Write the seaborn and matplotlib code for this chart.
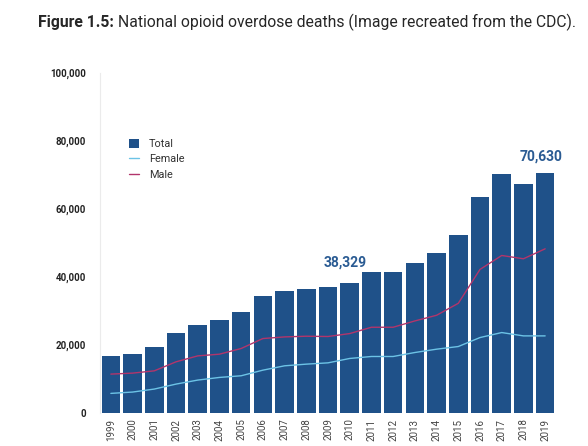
import pandas as pd
import matplotlib.pyplot as plt
import seaborn as sns

years = [str(y) for y in range(1999, 2020)]
total = [16849, 17415, 19394, 23518, 25785, 27424, 29813, 34425, 36010, 36450,
         37004, 38329, 41340, 41502, 43982, 47055, 52404, 63632, 70237, 67367, 70630]
female = [5770, 6160, 7040, 8500, 9680, 10460, 10950, 12600, 13880, 14370,
          14750, 16040, 16620, 16620, 17790, 18770, 19550, 22190, 23660, 22680, 22680]
male = [11440, 11730, 12400, 15050, 16800, 17300, 18970, 21900, 22380, 22580,
        22500, 23360, 25220, 25220, 27080, 28740, 32260, 42230, 46330, 45360, 48290]
yticks = [0, 20000, 40000, 60000, 80000, 100000]
callouts = {"2010": 20, "2019": 16}

BAR = "#1f5189"
FEMALE = "#6cc3e6"
MALE = "#b2356b"
NOTE = "#2a5b93"

sns.set_style("white")
plt.rcParams["font.family"] = ["Roboto", "DejaVu Sans"]

df = pd.DataFrame({"year": years, "total": total, "female": female, "male": male})
df["pos"] = range(len(df))

fig = plt.figure(figsize=(5.88, 4.46), dpi=100)
ax = fig.add_axes([100 / 588, 33 / 446, 456 / 588, 340 / 446])

sns.barplot(data=df, x="year", y="total", color=BAR, width=0.86,
            saturation=1, linewidth=0, ax=ax, label="Total")
sns.lineplot(data=df, x="pos", y="female", color=FEMALE, lw=1.0, ax=ax, label="Female")
sns.lineplot(data=df, x="pos", y="male", color=MALE, lw=1.0, ax=ax, label="Male")

ax.set_xlim(-0.5, len(years) - 0.5)
ax.set_ylim(0, 100000)
ax.set_yticks(yticks)
ax.set_yticklabels([f"{v:,}" for v in yticks], fontsize=7, fontweight="bold", color="#222222")
ax.set_xticks(range(len(years)))
ax.set_xticklabels(years, rotation=90, fontsize=7, color="#444444")
ax.tick_params(axis="both", length=0, pad=4)
ax.tick_params(axis="y", pad=10)
ax.set_xlabel("")
ax.set_ylabel("")
for s in ["top", "right", "bottom"]:
    ax.spines[s].set_visible(False)
ax.spines["left"].set_color("#ebebeb")
ax.spines["left"].set_linewidth(0.8)

for yr, off in callouts.items():
    i = years.index(yr)
    ax.annotate(f"{total[i]:,}", (i - 0.2, total[i]), xytext=(0, off),
                textcoords="offset pixels", ha="center", va="center",
                fontsize=10, fontweight="bold", color=NOTE)

# legend order: Total, Female, Male
handles, labels = ax.get_legend_handles_labels()
order = [labels.index(n) for n in ["Total", "Female", "Male"]]
leg = ax.legend([handles[k] for k in order], [labels[k] for k in order],
                loc="upper left", bbox_to_anchor=(0.055, 0.82), frameon=False,
                fontsize=7.8, handlelength=0.9, handleheight=0.9,
                handletextpad=0.9, labelspacing=0.5, borderaxespad=0)
for t in leg.get_texts():
    t.set_color("#333333")

head = fig.text(38 / 588, 1 - 22 / 446, "Figure 1.5:", fontsize=11.3,
                fontweight="bold", va="center", ha="left")
fig.add_artist(plt.Annotation(
    "National opioid overdose deaths (Image recreated from the CDC).",
    xy=(1, 0.5), xycoords=head, xytext=(3, 0), textcoords="offset points",
    fontsize=11.3, va="center", ha="left"))

fig.savefig("out.png", dpi=100)
